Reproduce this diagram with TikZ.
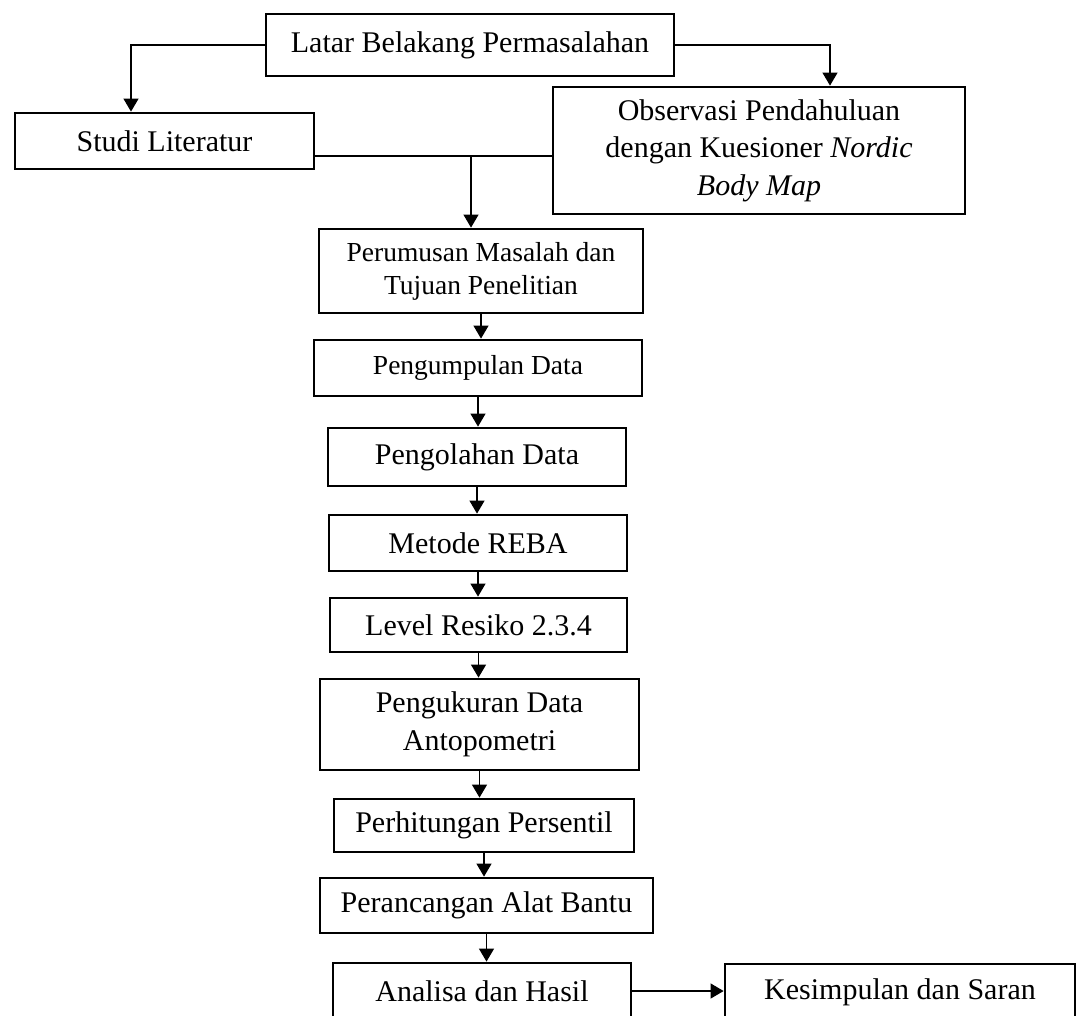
\documentclass[tikz,border=0pt]{standalone}
\usepackage{fontspec}
\setmainfont{Liberation Serif}
\usetikzlibrary{arrows.meta}

\begin{document}
\begin{tikzpicture}[x=1pt, y=-1pt,
    box/.style={draw, line width=2.8pt, inner sep=0pt, align=center, font=\fontsize{30}{37.5}\selectfont},
    smalltext/.style={font=\fontsize{27.5}{33}\selectfont},
    flow/.style={line width=1.2pt, -{Triangle[length=13pt, width=15pt]}}]
  \useasboundingbox (0, 0) rectangle (1078, 1015);
  \clip (0, 0) rectangle (1078, 1015);

  \node[box, minimum width=408pt, minimum height=62pt] (latar) at (470, 45) {Latar Belakang Permasalahan};
  \node[box, minimum width=299pt, minimum height=56pt] (studi) at (164.5, 141) {Studi Literatur};
  \node[box, minimum width=412pt, minimum height=127pt] (obs) at (759, 150.5)
    {Observasi Pendahuluan\\dengan Kuesioner \textit{Nordic}\\\textit{Body Map}};
  \node[box, smalltext, minimum width=324pt, minimum height=84pt] (rumus) at (481, 271)
    {Perumusan Masalah dan\\Tujuan Penelitian};
  \node[box, smalltext, minimum width=328pt, minimum height=56pt] (kumpul) at (478, 368) {Pengumpulan Data};
  \node[box, minimum width=298pt, minimum height=58pt] (olah) at (477, 457) {Pengolahan Data};
  \node[box, minimum width=298pt, minimum height=56pt] (reba) at (478, 543) {Metode REBA};
  \node[box, minimum width=297pt, minimum height=54pt] (level) at (478.5, 625) {Level Resiko 2.3.4};
  \node[box, minimum width=319pt, minimum height=91pt] (ukur) at (479.5, 724.5) {Pengukuran Data\\Antopometri};
  \node[box, minimum width=300pt, minimum height=53pt] (hitung) at (484, 825.5) {Perhitungan Persentil};
  \node[box, minimum width=333pt, minimum height=55pt] (rancang) at (486.5, 905.5) {Perancangan Alat Bantu};
  \node[box, minimum width=298pt, minimum height=56pt] (analisa) at (482, 991) {Analisa dan Hasil};
  \node[box, minimum width=350pt, minimum height=56pt] (simpul) at (900, 992) {Kesimpulan dan Saran};

  \draw[flow] (latar.west) -| ([xshift=-33.5pt]studi.north);
  \draw[flow] (latar.east) -| ([xshift=71pt]obs.north);
  \draw[line width=1.2pt] (studi.east |- 0,156) -- (obs.west |- 0,156);
  \coordinate (gabung) at (471, 156);
  \draw[flow] (gabung) -- (gabung |- rumus.north);
  \foreach \a/\b in {rumus/kumpul, kumpul/olah, olah/reba, reba/level, level/ukur, ukur/hitung, hitung/rancang, rancang/analisa}
    \draw[flow] (\a.south) -- (\a.south |- \b.north);
  \draw[flow] (analisa.east) -- (analisa.east -| simpul.west);
\end{tikzpicture}
\end{document}
